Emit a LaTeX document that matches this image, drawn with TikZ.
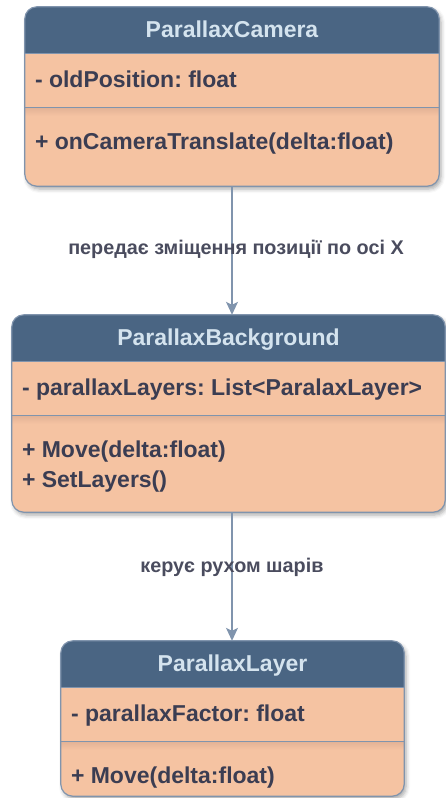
\documentclass[tikz,border=0pt]{standalone}
\usepackage{fontspec}
\setmainfont{Liberation Sans}
\usetikzlibrary{arrows.meta,shadows.blur}
\frenchspacing

\definecolor{hdrfill}{HTML}{4A6583}
\definecolor{bodyfill}{HTML}{F5C3A2}
\definecolor{bodyshade}{HTML}{E3B396}
\definecolor{edgeclr}{HTML}{8094AD}
\definecolor{titletxt}{HTML}{D4E3EE}
\definecolor{bodytxt}{HTML}{3B3D52}
\definecolor{lbltxt}{HTML}{4A4C5E}

\tikzset{
  classbox/.style={rectangle, rounded corners=12pt, fill=bodyfill, draw=none,
    inner sep=0pt, blur shadow={shadow xshift=2pt, shadow yshift=-3pt,
    shadow blur radius=4pt, shadow opacity=35}},
  outline/.style={draw=edgeclr, line width=1.2pt},
  sepline/.style={draw=edgeclr, line width=1pt},
  title/.style={font=\bfseries\fontsize{23}{27}\selectfont, text=titletxt,
    inner sep=0pt, anchor=base},
  member/.style={font=\bfseries\fontsize{23}{27}\selectfont, text=bodytxt,
    inner sep=0pt, anchor=base west},
  lbl/.style={font=\bfseries\fontsize{19.8}{23}\selectfont, text=lbltxt,
    inner sep=0pt},
  link/.style={draw=edgeclr, line width=1.3pt,
    -{Stealth[length=13pt, width=12pt, inset=3pt]}},
}

% draws header band, separator lines and outline of a class box
\newcommand{\umlframe}[1]{%
  \begin{scope}
    \clip[rounded corners=12pt] (#1.north west) rectangle (#1.south east);
    \fill[hdrfill] (#1.north west) rectangle ([yshift=-46.5pt]#1.north east);
    % soft shade just below the member separator
    \shade[top color=bodyshade, bottom color=bodyfill]
      ([yshift=-101pt]#1.north west) rectangle ([yshift=-109pt]#1.north east);
  \end{scope}
  \draw[sepline] ([yshift=-46.5pt]#1.north west) -- ([yshift=-46.5pt]#1.north east);
  \draw[sepline] ([yshift=-101pt]#1.north west) -- ([yshift=-101pt]#1.north east);
  \draw[outline, rounded corners=12pt] (#1.north west) rectangle (#1.south east);
}

\begin{document}
\begin{tikzpicture}[x=1pt, y=-1pt]
  \useasboundingbox (0,0) rectangle (446,798);

  % ParallaxCamera
  \node[classbox, minimum width=414pt, minimum height=179pt] (cam) at (232,96.5) {};
  \umlframe{cam}
  \node[title] (camT) at ([yshift=-31pt]cam.north) {ParallaxCamera};
  \node[member] (camA) at ([xshift=10pt, yshift=-81pt]cam.north west) {- oldPosition: float};
  \node[member] (camM) at ([xshift=10pt, yshift=-143pt]cam.north west) {+ onCameraTranslate(delta:float)};

  % ParallaxBackground
  \node[classbox, minimum width=433pt, minimum height=197pt] (bg) at (228.5,413.5) {};
  \umlframe{bg}
  \node[title] (bgT) at ([yshift=-31pt]bg.north) {ParallaxBackground};
  \node[member] (bgA) at ([xshift=10pt, yshift=-81pt]bg.north west) {- parallaxLayers: List<ParalaxLayer>};
  \node[member] (bgM1) at ([xshift=10pt, yshift=-143pt]bg.north west) {+ Move(delta:float)};
  \node[member] (bgM2) at ([xshift=10pt, yshift=-173pt]bg.north west) {+ SetLayers()};

  % ParallaxLayer
  \node[classbox, minimum width=343pt, minimum height=155pt] (lay) at (232.5,718.5) {};
  \umlframe{lay}
  \node[title] (layT) at ([yshift=-31pt]lay.north) {ParallaxLayer};
  \node[member] (layA) at ([xshift=10pt, yshift=-81pt]lay.north west) {- parallaxFactor: float};
  \node[member] (layM) at ([xshift=10pt, yshift=-143pt]lay.north west) {+ Move(delta:float)};

  % associations
  \draw[link] (cam.south) -- (cam.south |- bg.north)
    node[lbl, pos=0.49, xshift=4pt] (l1) {передає зміщення позиції по осі X};
  \draw[link] (cam.south |- bg.south) -- (cam.south |- lay.north)
    node[lbl, pos=0.43] (l2) {керує рухом шарів};
\end{tikzpicture}
\end{document}
